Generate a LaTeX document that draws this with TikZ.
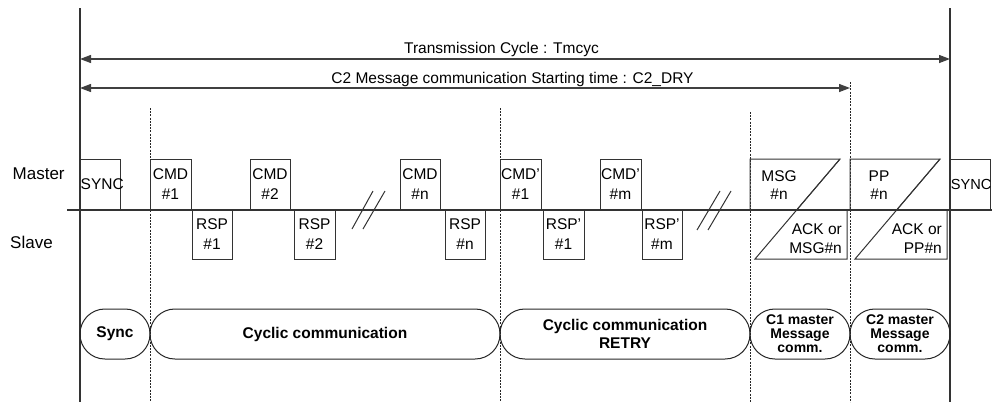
\documentclass[tikz,border=0pt]{standalone}
\usepackage{fontspec}
\setmainfont{Liberation Sans}
\usetikzlibrary{arrows.meta}
\begin{document}
\begin{tikzpicture}[x=1pt,y=-1pt,
  solidline/.style={draw=black!80, line width=1.2pt},
  guide/.style={draw=black!85, line width=1pt, dash pattern=on 2pt off 1.2pt},
  dimarrow/.style={draw=black!75, line width=1.3pt, {Triangle[length=11pt,width=8pt]}-{Triangle[length=11pt,width=8pt]}},
  shapeline/.style={draw=black!80, line width=1pt},
  mbox/.style={draw=black!80, line width=1pt, inner sep=0pt, minimum height=51pt, align=center, font=\fontsize{15.5}{20}\selectfont},
  sbox/.style={mbox, minimum height=49pt},
  lbl/.style={inner sep=0pt, font=\fontsize{15.5}{19}\selectfont},
  side/.style={inner sep=0pt, anchor=base west, font=\fontsize{17}{20}\selectfont},
  pill/.style={draw=black!85, line width=1pt, rounded corners=24.9pt, minimum height=50pt, inner sep=0pt, align=center, font=\fontsize{15.5}{18}\selectfont\bfseries},
  smallpill/.style={pill, font=\fontsize{14}{14}\selectfont\bfseries},
  brk/.style={draw=black!80, line width=1pt}
]
\useasboundingbox (0,0) rectangle (992,402);

% vertical reference lines
\draw[solidline] (80,8) -- (80,402);
\draw[solidline] (950,8) -- (950,402);
\draw[guide] (150,108) -- (150,402);
\draw[guide] (500,108) -- (500,402);
\draw[guide] (750,112) -- (750,402);
\draw[guide] (850,82) -- (850,402);

% dimension arrows
\coordinate (a1l) at (80,59);
\coordinate (a1r) at (950,59);
\coordinate (a2l) at (80,88);
\coordinate (a2r) at (850,88);
\draw[dimarrow] (a1l) -- (a1r);
\draw[dimarrow] (a2l) -- (a2r);
\node[lbl, anchor=base] (t1) at (501.5,53) {Transmission Cycle : Tmcyc};
\node[lbl, anchor=base] (t2) at (512.5,83) {C2 Message communication Starting time : C2\_DRY};

% time axis
\coordinate (axl) at (67,210);
\coordinate (axr) at (992,210);
\draw[solidline, line width=1.1pt] (axl) -- (axr);

% side labels
\node[side] (master) at (12.5,179) {Master};
\node[side] (slave) at (10,248) {Slave};

% master / slave frames
\node[mbox, minimum width=40pt] (sync1) at (100,184.5) {};
\node[inner sep=0pt, anchor=west, font=\fontsize{15.5}{18}\selectfont] (sync1t) at (80.5,184) {SYNC};
\node[mbox, minimum width=41pt] (cmd1) at (170.5,184.5) {CMD\\\#1};
\node[sbox, minimum width=40pt] (rsp1) at (212,234.5) {RSP\\\#1};
\node[mbox, minimum width=40pt] (cmd2) at (270,184.5) {CMD\\\#2};
\node[sbox, minimum width=41pt] (rsp2) at (314.5,234.5) {RSP\\\#2};
\node[mbox, minimum width=40pt] (cmdn) at (420,184.5) {CMD\\\#n};
\node[sbox, minimum width=40pt] (rspn) at (465,234.5) {RSP\\\#n};
\node[mbox, minimum width=41pt] (rcmd1) at (520.5,184.5) {CMD'\\\#1};
\node[sbox, minimum width=41pt] (rrsp1) at (563.5,234.5) {RSP'\\\#1};
\node[mbox, minimum width=41pt] (rcmdm) at (620.5,184.5) {CMD'\\\#m};
\node[sbox, minimum width=40pt] (rrspm) at (662,234.5) {RSP'\\\#m};
\node[mbox, minimum width=40pt] (sync2) at (970,184.5) {};
\node[inner sep=0pt, anchor=west, font=\fontsize{14.6}{18}\selectfont] (sync2t) at (950.6,184) {SYNC};

% break marks
\coordinate (b1a) at (352,229); \coordinate (b1b) at (373,191);
\coordinate (b2a) at (363,229); \coordinate (b2b) at (385,191);
\coordinate (b3a) at (697,230); \coordinate (b3b) at (720,191);
\coordinate (b4a) at (708,230); \coordinate (b4b) at (731,191);
\draw[brk] (b1a) -- (b1b);
\draw[brk] (b2a) -- (b2b);
\draw[brk] (b3a) -- (b3b);
\draw[brk] (b4a) -- (b4b);

% message frames (split by a diagonal)
\draw[shapeline] (750,210) -- (750,159) -- (840,159) -- (796.6,210);
\draw[shapeline] (840,159) -- (755,259) -- (847,259) -- (847,210);
\draw[shapeline] (850,210) -- (850,159) -- (940,159) -- (896.6,210);
\draw[shapeline] (940,159) -- (855,259) -- (947,259) -- (947,210);
\node[lbl, align=center, font=\fontsize{15.5}{18}\selectfont] (msg) at (779,185) {MSG\\\#n};
\node[lbl, align=right, anchor=east, font=\fontsize{15.5}{19}\selectfont] (ack1) at (842,238.5) {ACK or\\MSG\#n};
\node[lbl, align=center, font=\fontsize{15.5}{18}\selectfont] (pp) at (879,185) {PP\\\#n};
\node[lbl, align=right, anchor=east, font=\fontsize{15.5}{19}\selectfont] (ack2) at (942,238.5) {ACK or\\PP\#n};

% phases
\node[pill, minimum width=70pt] (psync) at (115,334) {Sync};
\node[pill, minimum width=350pt] (pcyc) at (325,334) {Cyclic communication};
\node[pill, minimum width=250pt] (pretry) at (625,334) {Cyclic communication\\RETRY};
\node[smallpill, minimum width=100pt] (pc1) at (800,334) {C1 master\\Message\\comm.};
\node[smallpill, minimum width=100pt] (pc2) at (900,334) {C2 master\\Message\\comm.};
\end{tikzpicture}
\end{document}
